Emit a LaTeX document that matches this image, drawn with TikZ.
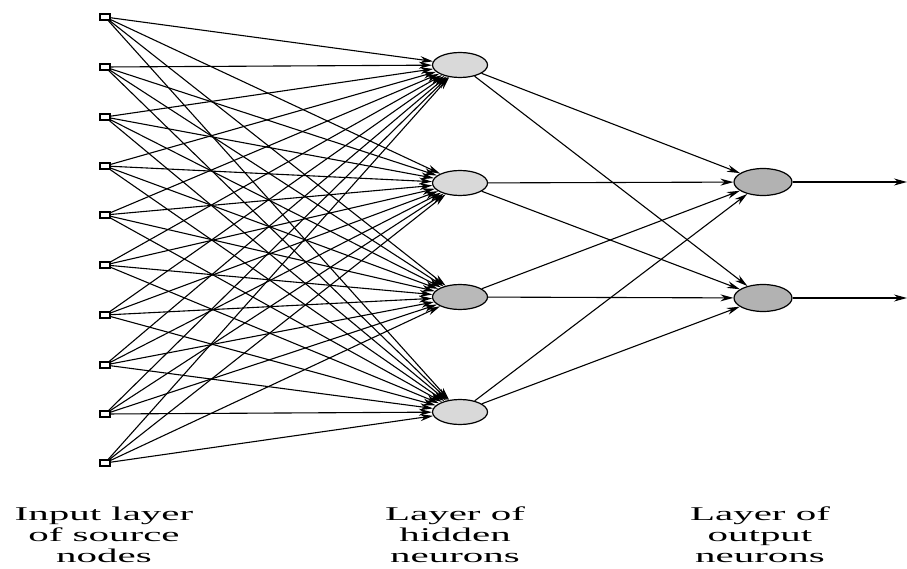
\documentclass[tikz,border=0pt]{standalone}
\usepackage{fontspec}
\setmainfont{Liberation Serif}
\usetikzlibrary{arrows.meta,shapes.geometric}
\begin{document}
\begin{tikzpicture}[x=1pt,y=-1pt,
  inp/.style={draw, line width=1.3pt, fill=white, rectangle, minimum width=10pt, minimum height=6pt, inner sep=0pt},
  hid/.style={draw, line width=1.2pt, ellipse, minimum width=55pt, minimum height=25pt, inner sep=0pt, fill=gray!30},
  outn/.style={draw, line width=1.2pt, ellipse, minimum width=58pt, minimum height=27pt, inner sep=0pt, fill=gray!60},
  conn/.style={line width=1.1pt, -{Stealth[length=13pt,width=7pt]}},
  lbl/.style={align=center, font=\fontsize{19.5}{21}\selectfont, inner sep=0pt, xscale=2.1}
]
\useasboundingbox (0,0) rectangle (907,569);
% input nodes
\foreach \i/\y in {1/17,2/67,3/117,4/166,5/215,6/265,7/315,8/365,9/414,10/463}{
  \node[inp] (i\i) at (105,\y) {};
}
% hidden nodes
\node[hid] (h1) at (460,65) {};
\node[hid] (h2) at (460,183) {};
\node[hid, fill=gray!55] (h3) at (460,297) {};
\node[hid] (h4) at (460,412) {};
% output nodes
\node[outn] (o1) at (763,182) {};
\node[outn] (o2) at (763,298) {};
\coordinate (e1) at (907,182);
\coordinate (e2) at (907,298);
% connections
\foreach \i in {1,...,10}{
  \foreach \h in {1,...,4}{
    \draw[conn] (i\i) -- (h\h);
  }
}
\foreach \h in {1,...,4}{
  \foreach \o in {1,2}{
    \draw[conn] (h\h) -- (o\o);
  }
}
\draw[conn] (o1) -- (e1);
\draw[conn] (o2) -- (e2);
% labels
\node[lbl] (l1) at (104,535) {Input layer\\of source\\nodes};
\node[lbl] (l2) at (455,535) {Layer of\\hidden\\neurons};
\node[lbl] (l3) at (760,535) {Layer of\\output\\neurons};
\end{tikzpicture}
\end{document}
